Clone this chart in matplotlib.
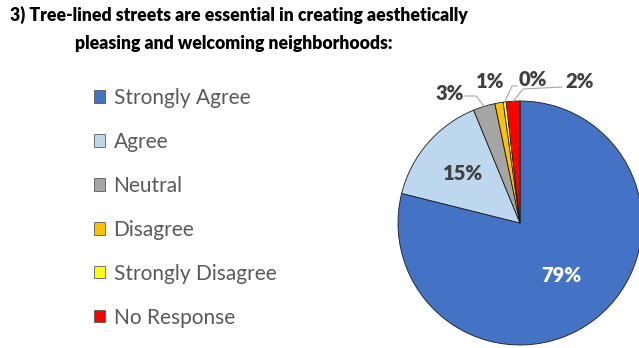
import numpy as np
import matplotlib
matplotlib.use("Agg")
import matplotlib.pyplot as plt

plt.rcParams['font.family'] = ['Lato', 'DejaVu Sans']

categories = ['Strongly Agree', 'Agree', 'Neutral', 'Disagree',
              'Strongly Disagree', 'No Response']
shares = [78.9, 14.9, 2.9, 1.1, 0.4, 1.8]
pct_labels = ['79%', '15%', '3%', '1%', '0%', '2%']
colors = ['#4472C4', '#BDD7EE', '#A5A5A5', '#FFC000', '#FFFF00', '#FF0000']

title = ('3) Tree-lined streets are essential in creating aesthetically\n'
         'pleasing and welcoming neighborhoods:')

W, H = 639, 348
fig = plt.figure(figsize=(W / 100, H / 100), dpi=100)
ax = fig.add_axes([0, 0, 1, 1])

cx, cy, r = 520, H - 223, 122
wedges, _ = ax.pie(shares, colors=colors, startangle=90, counterclock=False,
                   center=(cx, cy), radius=r, frame=True,
                   wedgeprops=dict(edgecolor='#1a1a1a', linewidth=0.6))
ax.set_xlim(0, W)
ax.set_ylim(0, H)
ax.set_aspect('equal')
ax.axis('off')

lab_color = '#404040'
# inside labels
inside = {0: (0.55, 'white'), 1: (0.62, lab_color)}
for i, (frac, col) in inside.items():
    w = wedges[i]
    mid = np.deg2rad((w.theta1 + w.theta2) / 2)
    ax.text(cx + frac * r * np.cos(mid), cy + frac * r * np.sin(mid),
            pct_labels[i], ha='center', va='center', fontsize=14.5,
            fontweight='heavy', color=col)

# outside labels with leader lines
outside = {2: (450, H - 93), 3: (490, H - 81), 4: (533, H - 80), 5: (580, H - 81)}
for i, (tx, ty) in outside.items():
    w = wedges[i]
    mid = np.deg2rad((w.theta1 + w.theta2) / 2)
    ex, ey = cx + r * np.cos(mid), cy + r * np.sin(mid)
    ax.text(tx, ty, pct_labels[i], ha='center', va='center', fontsize=14.5,
            fontweight='heavy', color=lab_color)
    if i == 2:
        ax.plot([tx + 15, ex - 8, ex], [ty - 3, ty - 3, ey], color='#a6a6a6', lw=0.8)
    elif i == 4:
        ax.plot([tx - 16, tx - 21, ex], [ty - 6, ty - 6, ey], color='#a6a6a6', lw=0.8)
    elif i == 5:
        ax.plot([tx - 18, ex + 10, ex], [ty - 6, ty - 8, ey], color='#a6a6a6', lw=0.8)

fig.text(10 / W, 1 - 6 / H, title.split('\n')[0], ha='left', va='top',
         fontsize=12.7, fontweight='heavy', color='black')
fig.text(234 / W, 1 - 35 / H, title.split('\n')[1], ha='center', va='top',
         fontsize=12.7, fontweight='heavy', color='black')

leg = ax.legend(wedges, categories, loc='upper left',
                bbox_to_anchor=(75 / W, 1 - 69 / H), frameon=False,
                fontsize=15, labelspacing=1.15, handlelength=0.55,
                handleheight=0.55, handletextpad=0.4, labelcolor='#595959')
for h in leg.legend_handles:
    h.set_edgecolor('#595959')
    h.set_linewidth(0.6)

fig.savefig('out.png', dpi=100)
